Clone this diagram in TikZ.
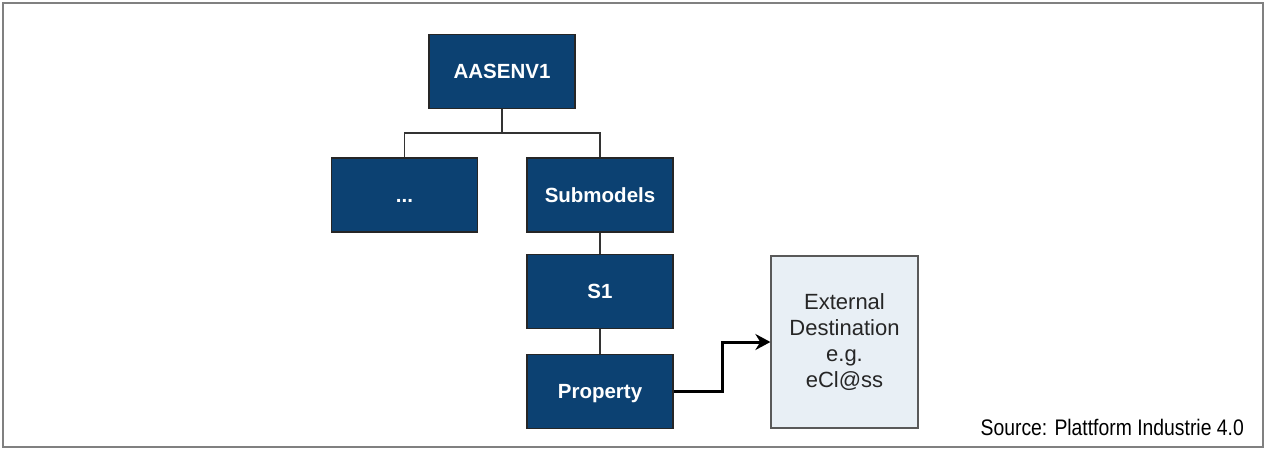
\documentclass[tikz,border=0pt]{standalone}
\usepackage{fontspec}
\setmainfont{Liberation Sans}
\newfontfamily\srcfont[FakeStretch=0.86]{Liberation Sans}
\usetikzlibrary{arrows.meta}

\definecolor{aasblue}{HTML}{0C4172}
\definecolor{extfill}{HTML}{E8EFF5}
\definecolor{linegray}{HTML}{333333}

\tikzset{
    bluebox/.style={draw=black!85, line width=1.2pt, fill=aasblue, text=white,
        font=\fontsize{20.5}{24}\selectfont\bfseries,
        text height=14.7pt, text depth=0pt,
        minimum width=146pt, minimum height=74pt, inner sep=0pt},
    extbox/.style={draw=black!65, line width=1.2pt, fill=extfill, text=black!85,
        font=\fontsize{22}{26}\selectfont, align=center,
        minimum width=147pt, minimum height=172pt, inner sep=0pt},
    treeline/.style={draw=linegray, line width=1.6pt},
}

\begin{document}
\begin{tikzpicture}[x=1pt, y=-1pt, >={Stealth[length=15pt, width=16pt]}]

        % --- Rahmen ---
        \useasboundingbox (0,0) rectangle (1266,450);
        \draw[gray, line width=2pt] (3,3) rectangle (1263,447);

        % --- Baum ---
        \node[bluebox] (env) at (502,71.5) {AASENV1};
        \node[bluebox] (dots) at (404.5,195) {...};
        \node[bluebox] (sub) at (600,195) {Submodels};
        \node[bluebox] (s1) at (600,291.5) {S1};
        \node[bluebox] (prop) at (600,391.5) {Property};

        \draw[treeline] (env.south) -- ++(0,24) -| (dots.north);
        \draw[treeline] (env.south) -- ++(0,24) -| (sub.north);
        \draw[treeline] (sub.south) -- (s1.north);
        \draw[treeline] (s1.south) -- (prop.north);

        % --- Externe Referenz ---
        \node[extbox] (ext) at (844.5,342) {External\\Destination\\e.g.\\eCl@ss};
        \draw[->, black, line width=3pt] (prop.east) -- ++(49,0) |- (ext.west);

        % --- Quelle ---
        \node[anchor=base east, inner sep=0pt, font=\fontsize{22.5}{26}\selectfont\srcfont]
            (src) at (1244,435) {Source: Plattform Industrie 4.0};

    \end{tikzpicture}
\end{document}
